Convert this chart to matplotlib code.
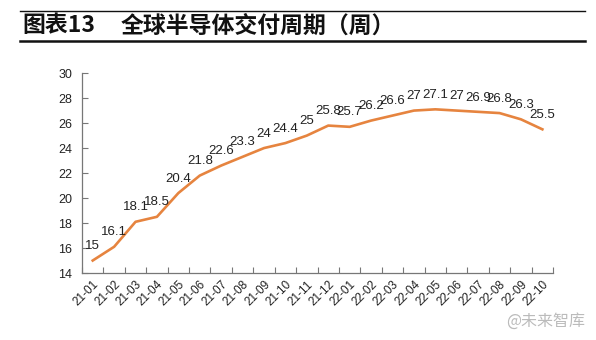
"""Global semiconductor lead time, monthly (weeks)"""
import matplotlib
matplotlib.use('Agg')
import matplotlib.pyplot as plt
from matplotlib.lines import Line2D

plt.rcParams['font.family'] = ['Noto Sans CJK SC', 'DejaVu Sans']

MONTHS = ['21-01', '21-02', '21-03', '21-04', '21-05', '21-06', '21-07',
          '21-08', '21-09', '21-10', '21-11', '21-12', '22-01', '22-02',
          '22-03', '22-04', '22-05', '22-06', '22-07', '22-08', '22-09',
          '22-10']
WEEKS = [15, 16.1, 18.1, 18.5, 20.4, 21.8, 22.6, 23.3, 24, 24.4, 25, 25.8,
         25.7, 26.2, 26.6, 27, 27.1, 27, 26.9, 26.8, 26.3, 25.5]
Y_TICKS = [14, 16, 18, 20, 22, 24, 26, 28, 30]


def main():
    fig = plt.figure(figsize=(5.96, 3.4), dpi=100)
    ax = fig.add_axes([0.1376, 0.197, 0.7904, 0.588])

    x = list(range(len(MONTHS)))
    ax.plot(x, WEEKS, color='#E6843F', lw=1.9, solid_joinstyle='round')
    for xi, v in zip(x, WEEKS):
        ax.annotate(f'{v:g}', (xi, v), xytext=(0, 6), textcoords='offset points',
                    ha='center', va='bottom', fontsize=9.5, color='#222222',
                    family='Liberation Sans')

    ax.set_xlim(-0.5, len(MONTHS) - 0.5)
    ax.set_ylim(14, 30)
    ax.set_yticks(Y_TICKS)
    ax.set_yticklabels([str(t) for t in Y_TICKS], family='Liberation Sans',
                       fontsize=9, color='#222222')
    ax.set_xticks([i - 0.5 for i in range(len(MONTHS) + 1)])
    ax.set_xticklabels([])
    ax.set_xticks(x, minor=True)
    ax.set_xticklabels(MONTHS, minor=True, rotation=45, ha='right',
                       rotation_mode='anchor', family='Liberation Sans',
                       fontsize=8.5, color='#222222')
    ax.tick_params(axis='x', which='minor', length=0, pad=4)
    ax.tick_params(axis='x', which='major', direction='in', length=4,
                   color='#777777')
    ax.tick_params(axis='y', direction='in', length=4, color='#777777', pad=7)

    for side in ('top', 'right'):
        ax.spines[side].set_visible(False)
    for side in ('left', 'bottom'):
        ax.spines[side].set_color('#777777')
        ax.spines[side].set_linewidth(0.9)

    # header with rules above and below
    fig.add_artist(Line2D([0.034, 0.982], [0.968, 0.968], color='#111111',
                          lw=1.0, transform=fig.transFigure))
    fig.add_artist(Line2D([0.034, 0.982], [0.879, 0.879], color='#111111',
                          lw=1.8, transform=fig.transFigure))
    fig.text(0.037, 0.924, '图表13', fontsize=16.5, fontweight='bold',
             va='center', ha='left', color='#111111')
    fig.text(0.203, 0.924, '全球半导体交付周期（周）', fontsize=16.5,
             fontweight='bold', va='center', ha='left', color='#111111')

    fig.text(0.982, 0.055, '@未来智库', fontsize=11.5, color='#BBBBBB',
             ha='right', va='center')

    fig.savefig('out.png', dpi=100)


if __name__ == '__main__':
    main()
